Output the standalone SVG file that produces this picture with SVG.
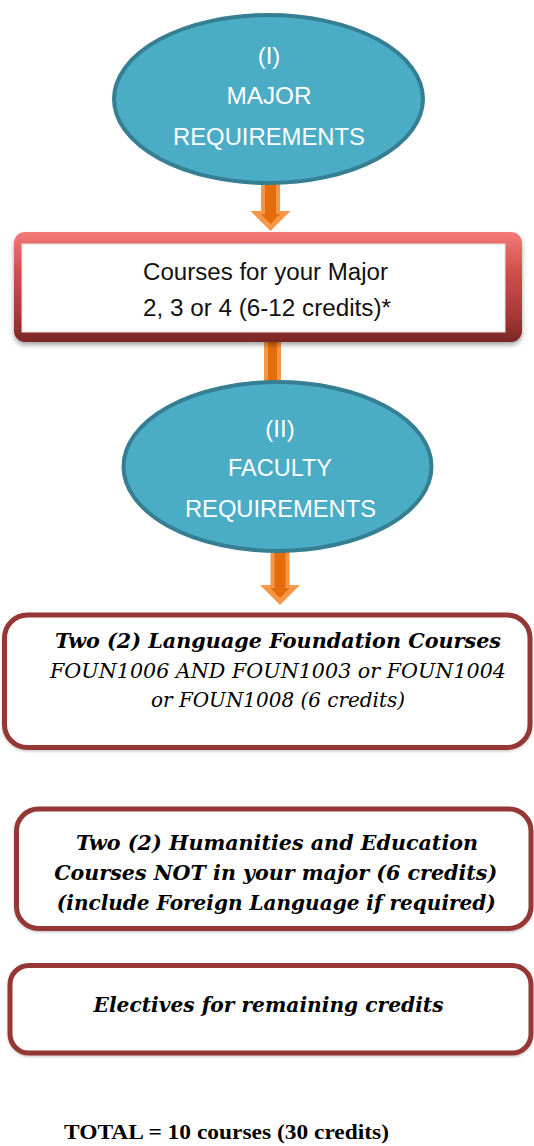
<svg xmlns="http://www.w3.org/2000/svg" width="534" height="1146" viewBox="0 0 534 1146">
<defs>
  <linearGradient id="redFrame" x1="0" y1="0" x2="0" y2="1">
    <stop offset="0" stop-color="#f47a78"/>
    <stop offset="0.35" stop-color="#d0504e"/>
    <stop offset="0.75" stop-color="#a83a38"/>
    <stop offset="1" stop-color="#7a2725"/>
  </linearGradient>
  <filter id="shadow" x="-10%" y="-10%" width="120%" height="140%">
    <feDropShadow dx="0" dy="3" stdDeviation="2.5" flood-color="#000" flood-opacity="0.35"/>
  </filter>
  <filter id="softShadow" x="-10%" y="-10%" width="120%" height="130%">
    <feDropShadow dx="0" dy="1.5" stdDeviation="1.2" flood-color="#000" flood-opacity="0.2"/>
  </filter>
</defs>
<style>
  .ell { fill: #4bacc6; stroke: #367e92; stroke-width: 4; }
  .ellText { font-family: "Liberation Sans", Arial, sans-serif; font-size: 24px; fill: #ffffff; text-anchor: middle; }
  .boxText { font-family: "Liberation Sans", Arial, sans-serif; font-size: 23px; fill: #111111; text-anchor: middle; }
  .frame { fill: #ffffff; stroke: #953735; stroke-width: 5; }
  .bi { font-family: "DejaVu Serif", "Liberation Serif", serif; font-size: 21px; font-weight: bold; font-style: italic; fill: #000000; text-anchor: middle; }
  .it { font-family: "DejaVu Serif", "Liberation Serif", serif; font-size: 21px; font-style: italic; fill: #000000; text-anchor: middle; }
  .arrOuter { fill: #f79646; }
  .arrInner { fill: #e46c0a; }
  .total { font-family: "Liberation Serif", "Times New Roman", serif; font-size: 22px; font-weight: bold; fill: #000000; }
</style>

<g id="connectors">
  <g id="arrow1">
    <path class="arrOuter" d="M261,180 L280,180 L280,211 L290.5,211 L270.5,231 L250.5,211 L261,211 Z"/>
    <path class="arrInner" d="M265,180 L276,180 L276,214 L280,214 L270.5,224 L261,214 L265,214 Z"/>
  </g>
  <g id="connector2">
    <rect class="arrOuter" x="264" y="338" width="17" height="50"/>
    <rect class="arrInner" x="268" y="338" width="9" height="50"/>
  </g>
  <g id="arrow3">
    <path class="arrOuter" d="M270.5,548 L289.5,548 L289.5,585 L300,585 L280,605 L260,585 L270.5,585 Z"/>
    <path class="arrInner" d="M274.5,548 L285.5,548 L285.5,588 L289.5,588 L280,598 L270.5,588 L274.5,588 Z"/>
  </g>
</g>

<g id="node-major">
  <ellipse class="ell" cx="268.5" cy="99" rx="154.5" ry="84"/>
  <text class="ellText" x="269" y="63.5">(I)</text>
  <text class="ellText" x="269" y="103.5" textLength="85" lengthAdjust="spacingAndGlyphs">MAJOR</text>
  <text class="ellText" x="269" y="145" textLength="192" lengthAdjust="spacingAndGlyphs">REQUIREMENTS</text>
</g>

<g id="node-courses-major">
  <rect x="14" y="232" width="508" height="110" rx="11" fill="url(#redFrame)" filter="url(#shadow)"/>
  <rect x="22" y="244" width="483" height="88" fill="#ffffff" stroke="#e2e2e2" stroke-width="1"/>
  <text class="boxText" x="265.5" y="279.5" textLength="245" lengthAdjust="spacingAndGlyphs">Courses for your Major</text>
  <text class="boxText" x="267" y="315.5" textLength="248" lengthAdjust="spacingAndGlyphs">2, 3 or 4 (6-12 credits)*</text>
</g>

<g id="node-faculty">
  <ellipse class="ell" cx="277.5" cy="466.5" rx="154" ry="84.5"/>
  <text class="ellText" x="280" y="437">(II)</text>
  <text class="ellText" x="280" y="476" textLength="104" lengthAdjust="spacingAndGlyphs">FACULTY</text>
  <text class="ellText" x="280.5" y="516.5" textLength="191" lengthAdjust="spacingAndGlyphs">REQUIREMENTS</text>
</g>

<g id="node-language">
  <rect class="frame" x="4.5" y="615" width="525.5" height="132.5" rx="23" filter="url(#softShadow)"/>
  <text class="bi" x="278" y="648" textLength="446" lengthAdjust="spacingAndGlyphs">Two (2) Language Foundation Courses</text>
  <text class="it" x="278" y="678" textLength="456" lengthAdjust="spacingAndGlyphs">FOUN1006 AND FOUN1003 or FOUN1004</text>
  <text class="it" x="278" y="707" textLength="254" lengthAdjust="spacingAndGlyphs">or FOUN1008 (6 credits)</text>
</g>

<g id="node-humanities">
  <rect class="frame" x="16.5" y="809" width="514.5" height="119.5" rx="22" filter="url(#softShadow)"/>
  <text class="bi" x="277" y="850" textLength="402" lengthAdjust="spacingAndGlyphs">Two (2) Humanities and Education</text>
  <text class="bi" x="275.7" y="880" textLength="443" lengthAdjust="spacingAndGlyphs">Courses NOT in your major (6 credits)</text>
  <text class="bi" x="276.3" y="909.5" textLength="439" lengthAdjust="spacingAndGlyphs">(include Foreign Language if required)</text>
</g>

<g id="node-electives">
  <rect class="frame" x="10" y="965.5" width="521" height="87.5" rx="19" filter="url(#softShadow)"/>
  <text class="bi" x="268.5" y="1012" textLength="350" lengthAdjust="spacingAndGlyphs">Electives for remaining credits</text>
</g>

<g id="total">
  <text class="total" x="64" y="1138.5" textLength="325" lengthAdjust="spacingAndGlyphs">TOTAL = 10 courses (30 credits)</text>
</g>
</svg>
